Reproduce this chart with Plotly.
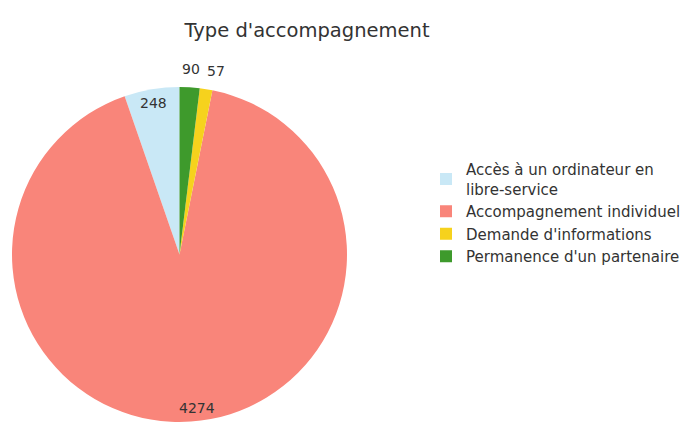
import math
import plotly.graph_objects as go

categories = ["Accès à un ordinateur en<br>libre-service", "Accompagnement individuel",
              "Demande d'informations", "Permanence d'un partenaire"]
values = [248, 4274, 57, 90]
colors = ["#c9e8f6", "#f9857a", "#f6d21d", "#3e9a2c"]
label_radius = [0.92, 0.92, 1.11, 1.11]
label_xshift = [0, 7, 7, 0]

W, H = 686, 423
cx, cy, R = 179.5, 254.5, 167.5
FONT = "DejaVu Sans"
total = sum(values)

fig = go.Figure(go.Pie(
    labels=categories, values=values, sort=False, direction="counterclockwise",
    rotation=-values[0] / total * 360,
    marker=dict(colors=colors, line=dict(width=0)), textinfo="none",
    hoverinfo="label+value",
    domain=dict(x=[(cx - R) / W, (cx + R) / W], y=[1 - (cy + R) / H, 1 - (cy - R) / H]),
))

# value labels placed at each slice's mid-angle (counterclockwise from the top)
annotations = []
acc = 0.0
for v, rr, xs in zip(values, label_radius, label_xshift):
    mid = (acc + v / 2) / total * 2 * math.pi
    acc += v
    px = cx - R * rr * math.sin(mid)
    py = cy - R * rr * math.cos(mid)
    annotations.append(dict(x=px / W, y=1 - py / H, xref="paper", yref="paper",
                            xanchor="center", yanchor="middle", xshift=xs,
                            text=str(v), showarrow=False,
                            font=dict(size=14, color="#333333", family=FONT)))

fig.update_layout(
    width=W, height=H, margin=dict(l=0, r=0, t=0, b=0),
    paper_bgcolor="white", plot_bgcolor="white",
    font=dict(family=FONT, size=13, color="#333333"),
    title=dict(text="Type d'accompagnement", x=307 / W, xanchor="center",
               y=1 - 30 / H, yanchor="middle",
               font=dict(size=19.5, color="#333333", family=FONT)),
    legend=dict(x=426 / W, xanchor="left", y=1 - 153 / H, yanchor="top",
                font=dict(size=15, color="#333333", family=FONT), itemwidth=30,
                bgcolor="rgba(0,0,0,0)"),
    annotations=annotations,
)
fig.write_html("out.html")
